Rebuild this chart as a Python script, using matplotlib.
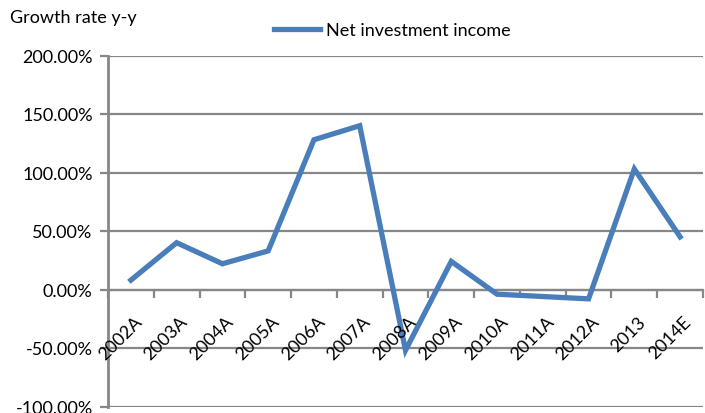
import numpy as np
import matplotlib.pyplot as plt
from matplotlib.ticker import FuncFormatter

plt.rcParams['font.family'] = ['Lato', 'DejaVu Sans']

years = ['2002A', '2003A', '2004A', '2005A', '2006A', '2007A', '2008A',
         '2009A', '2010A', '2011A', '2012A', '2013', '2014E']
growth = [8, 40, 22, 33, 128, 140, -52, 24, -4, -6, -8, 103, 45]

line_color = '#4a7ebb'
grid_color = '#878787'
fs = 13

fig = plt.figure(figsize=(7.05, 4.14), dpi=100)
ax = fig.add_axes([108/705, 1 - 407.5/414, (703 - 108)/705, (407.5 - 56.5)/414])

x = np.arange(len(years))
ax.plot(x, growth, color=line_color, lw=3.8, solid_joinstyle='miter',
        label='Net investment income', zorder=3)

ax.set_xlim(-0.5, len(years) - 0.5)
ax.set_ylim(-100, 200)
ax.set_yticks(np.arange(-100, 201, 50))
ax.yaxis.set_major_formatter(FuncFormatter(lambda v, p: '%.2f%%' % v))
ax.yaxis.grid(True, color=grid_color, lw=1.6)
ax.set_axisbelow(True)

# tick marks on the category boundaries, year labels hang off the zero line
ax.set_xticks(np.arange(-0.5, len(years)))
ax.set_xticklabels([])
ax.tick_params(axis='x', which='major', length=6, width=1.6, color=grid_color)
ax.tick_params(axis='y', length=6, width=1.6, color=grid_color, labelsize=fs, pad=5)
for i, yr in enumerate(years):
    ax.annotate(yr, xy=(i, 0), xytext=(2, -17), textcoords='offset points',
                rotation=45, ha='right', va='top', rotation_mode='anchor',
                fontsize=fs, annotation_clip=False)

for side in ['top', 'right']:
    ax.spines[side].set_visible(False)
ax.spines['bottom'].set_position(('data', 0))
ax.spines['bottom'].set_color(grid_color)
ax.spines['bottom'].set_linewidth(1.6)
ax.spines['left'].set_color(grid_color)
ax.spines['left'].set_linewidth(2)

fig.text(10/705, 1 - 18/414, 'Growth rate y-y', fontsize=fs, va='center', ha='left')
fig.legend(loc='center', bbox_to_anchor=(392/705, 1 - 31/414), frameon=False,
           fontsize=fs, handlelength=2.6, handletextpad=0.3)

fig.savefig('out.png', dpi=100)
